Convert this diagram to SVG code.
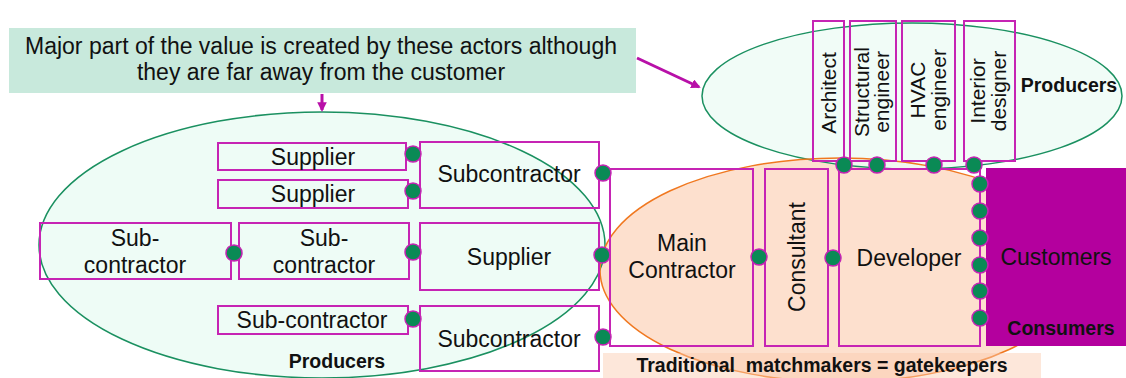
<svg xmlns="http://www.w3.org/2000/svg" width="1126" height="378" viewBox="0 0 1126 378">
<style>
text{font-family:"Liberation Sans",Arial,sans-serif;fill:#111}
.t{font-size:23px;text-anchor:middle}
.tv{font-size:21px}
.b{font-size:19.5px;font-weight:bold;text-anchor:middle}
.box{fill:none;stroke:#c624b4;stroke-width:2}
.dot{fill:#0a8a55;stroke:#c624b4;stroke-width:1.5}
.arr{stroke:#b810a8;stroke-width:3;fill:none}
</style>
<defs>
<marker id="ah" viewBox="0 0 10 10" refX="8" refY="5" markerWidth="3.2" markerHeight="3.2" orient="auto">
<path d="M0,0 L10,5 L0,10 z" fill="#b810a8"/>
</marker>
</defs>
<rect width="1126" height="378" fill="#fff"/>

<g id="groups">
<ellipse id="left-producers-area" cx="322" cy="245" rx="283" ry="133" fill="#eefcf6"/>
<ellipse id="gatekeeper-area" cx="840" cy="270" rx="240" ry="112" fill="#fde0ce"/>
<ellipse id="top-producers-area" cx="912" cy="96" rx="210" ry="73" fill="#eefcf6" fill-opacity="0.85"/>
<ellipse cx="322" cy="245" rx="283" ry="133" fill="none" stroke="#1a9060" stroke-width="1.5"/>
<ellipse cx="912" cy="96" rx="210" ry="73" fill="none" stroke="#1a9060" stroke-width="1.5"/>
<ellipse cx="840" cy="270" rx="240" ry="112" fill="none" stroke="#f07820" stroke-width="1.5"/>
<rect x="603" y="353" width="438" height="25" fill="#fbc9ac" fill-opacity="0.45"/>
<text class="b" x="337" y="368">Producers</text>
<text class="b" x="1069" y="92">Producers</text>
<text class="b" x="822" y="372" xml:space="preserve">Traditional  matchmakers = gatekeepers</text>
</g>

<g id="callout">
<rect x="9" y="28" width="627" height="65" fill="#c8e9dc"/>
<text class="t" x="321" y="54">Major part of the value is created by these actors although</text>
<text class="t" x="321" y="80">they are far away from the customer</text>
</g>

<g id="supplier-1"><rect class="box" x="218" y="143" width="188" height="27"/><text class="t" x="313" y="165">Supplier</text></g>
<g id="supplier-2"><rect class="box" x="218" y="180" width="190" height="28"/><text class="t" x="313" y="202">Supplier</text></g>
<g id="subcontractor-top"><rect class="box" x="420" y="142" width="179" height="66"/><text class="t" x="509" y="182">Subcontractor</text></g>
<g id="subcontractor-left"><rect class="box" x="40" y="223" width="191" height="56"/><text class="t" x="135" y="246">Sub-</text><text class="t" x="135" y="273">contractor</text></g>
<g id="subcontractor-mid"><rect class="box" x="239" y="223" width="170" height="56"/><text class="t" x="324" y="246">Sub-</text><text class="t" x="324" y="273">contractor</text></g>
<g id="supplier-mid"><rect class="box" x="420" y="223" width="179" height="67"/><text class="t" x="509" y="265">Supplier</text></g>
<g id="subcontractor-small"><rect class="box" x="218" y="306" width="190" height="28"/><text class="t" x="312" y="328">Sub-contractor</text></g>
<g id="subcontractor-bottom"><rect class="box" x="420" y="306" width="179" height="65"/><text class="t" x="509" y="347">Subcontractor</text></g>

<g id="main-contractor"><rect class="box" x="610" y="169" width="143" height="177"/><text class="t" x="682" y="251">Main</text><text class="t" x="682" y="278">Contractor</text></g>
<g id="consultant"><rect class="box" x="765" y="169" width="63" height="177"/><text class="t" transform="translate(805,257) rotate(-90)">Consultant</text></g>
<g id="developer"><rect class="box" x="839" y="169" width="141" height="177"/><text class="t" x="909" y="266">Developer</text></g>
<g id="customers"><rect x="986" y="168" width="140" height="178" fill="#b4009e"/><text class="t" x="1056" y="265">Customers</text><text class="b" x="1061" y="335">Consumers</text></g>

<g id="architect"><rect class="box" x="813" y="21" width="31" height="140"/><text class="tv" text-anchor="middle" transform="translate(836,93) rotate(-90)">Architect</text></g>
<g id="structural-engineer"><rect class="box" x="850" y="21" width="46" height="140"/><text class="tv" text-anchor="middle" transform="translate(869,92) rotate(-90)"><tspan x="0" y="0">Structural</tspan><tspan x="0" y="20">engineer</tspan></text></g>
<g id="hvac-engineer"><rect class="box" x="902" y="21" width="53" height="140"/><text class="tv" text-anchor="middle" transform="translate(925,90) rotate(-90)"><tspan x="0" y="0">HVAC</tspan><tspan x="0" y="21">engineer</tspan></text></g>
<g id="interior-designer"><rect class="box" x="964" y="21" width="51" height="140"/><text class="tv" text-anchor="middle" transform="translate(985,91) rotate(-90)"><tspan x="0" y="0">Interior</tspan><tspan x="0" y="21">designer</tspan></text></g>

<g id="connectors">
<line class="arr" x1="322" y1="94" x2="322" y2="110" marker-end="url(#ah)"/>
<line class="arr" x1="637" y1="58" x2="699" y2="87" marker-end="url(#ah)"/>
<circle class="dot" cx="413" cy="154" r="8"/>
<circle class="dot" cx="413" cy="191" r="8"/>
<circle class="dot" cx="234" cy="253" r="8"/>
<circle class="dot" cx="413" cy="252" r="8"/>
<circle class="dot" cx="413" cy="319" r="8"/>
<circle class="dot" cx="603" cy="173" r="8"/>
<circle class="dot" cx="602" cy="255" r="8"/>
<circle class="dot" cx="603" cy="337" r="8"/>
<circle class="dot" cx="759" cy="257" r="8"/>
<circle class="dot" cx="833" cy="258" r="8"/>
<circle class="dot" cx="844" cy="165" r="8"/>
<circle class="dot" cx="877" cy="165" r="8"/>
<circle class="dot" cx="934" cy="165" r="8"/>
<circle class="dot" cx="974" cy="165" r="8"/>
<circle class="dot" cx="980" cy="184" r="8"/>
<circle class="dot" cx="980" cy="211" r="8"/>
<circle class="dot" cx="980" cy="238" r="8"/>
<circle class="dot" cx="980" cy="265" r="8"/>
<circle class="dot" cx="980" cy="291" r="8"/>
<circle class="dot" cx="980" cy="318" r="8"/>
</g>
</svg>
